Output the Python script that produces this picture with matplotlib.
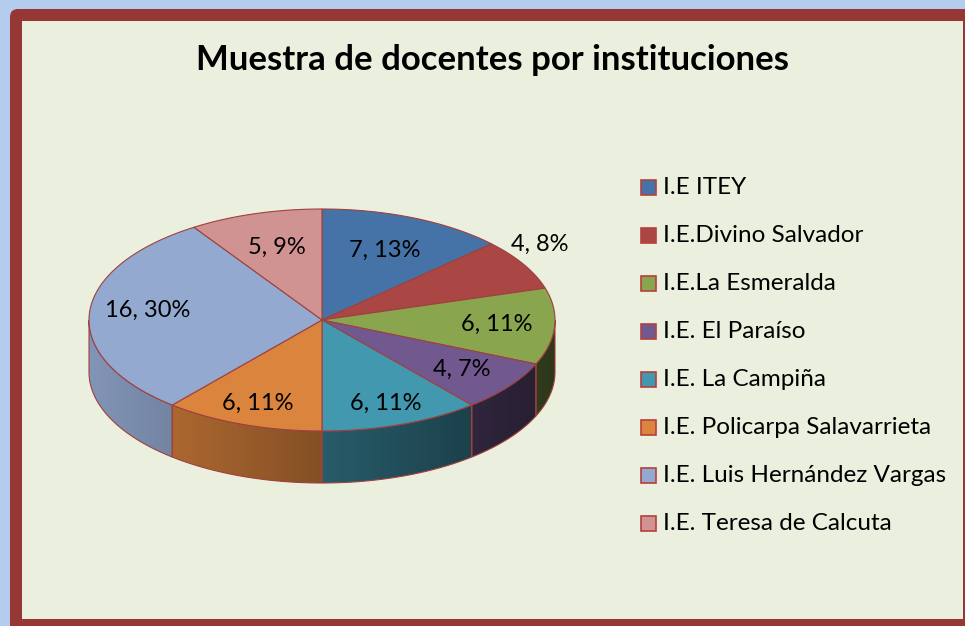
import numpy as np
import matplotlib
matplotlib.use("Agg")
import matplotlib.pyplot as plt
from matplotlib.patches import Polygon, Rectangle, FancyBboxPatch
from matplotlib.colors import to_rgb

plt.rcParams['font.family'] = ['Lato', 'DejaVu Sans']

# data
schools = ["I.E ITEY", "I.E.Divino Salvador", "I.E.La Esmeralda", "I.E. El Paraíso",
           "I.E. La Campiña", "I.E. Policarpa Salavarrieta", "I.E. Luis Hernández Vargas",
           "I.E. Teresa de Calcuta"]
teachers = [7, 4, 6, 4, 6, 6, 16, 5]
pct_labels = ["13%", "8%", "11%", "7%", "11%", "11%", "30%", "9%"]
colors = ["#4572a7", "#aa4643", "#89a54e", "#71588f", "#4198af", "#db843d", "#93a9cf", "#d19392"]
title = "Muestra de docentes por instituciones"

# geometry of the fake 3d pie (pixel coords)
cx, cy = 322, 320
rx, ry = 233, 111
depth = 52
label_r = [0.68, 1.08, 0.75, 0.75, 0.8, 0.8, 0.75, 0.68]
label_dy = [0, -16, 0, 0, 0, 0, -5, 0]

fig = plt.figure(figsize=(9.65, 6.26), dpi=100)
fig.patch.set_facecolor("#b4cdee")
ax = fig.add_axes([0, 0, 1, 1])
ax.set_xlim(0, 965)
ax.set_ylim(626, 0)
ax.axis("off")

# chart frame
ax.add_patch(FancyBboxPatch((10, 9), 980, 640, boxstyle="round,pad=0,rounding_size=8",
                            facecolor="#953735", edgecolor="none"))
ax.add_patch(Rectangle((22, 21), 941, 598, facecolor="#ebf0de", edgecolor="none"))


def pt(t, r=1.0, dy=0.0):
    t = np.radians(t)
    return cx + rx * r * np.sin(t), cy - ry * r * np.cos(t) + dy


def shade(x):
    return np.clip(0.88 - (x - 90) / 465 * 0.55, 0.3, 1)


angles = np.cumsum([0] + teachers) / sum(teachers) * 360
edge = "#a0403f"

# side walls (visible front half: 90..270 deg)
for i in range(len(teachers)):
    a0, a1 = max(angles[i], 90), min(angles[i + 1], 270)
    if a1 <= a0:
        continue
    ts = np.linspace(a0, a1, 60)
    xs, ys = pt(ts)
    verts = list(zip(xs, ys)) + list(zip(xs[::-1], ys[::-1] + depth))
    poly = Polygon(verts, closed=True, facecolor="none", edgecolor=edge, lw=0.8, zorder=3)
    ax.add_patch(poly)
    x0, x1 = min(xs), max(xs)
    gx = np.linspace(x0, x1, 200)
    base = np.array(to_rgb(colors[i]))
    grad = np.clip(shade(gx)[:, None] * base[None, :], 0, 1)[None, :, :]
    im = ax.imshow(grad, extent=(x0, x1, max(ys) + depth, min(ys)), aspect="auto", zorder=2,
                   interpolation="bilinear")
    im.set_clip_path(Polygon(verts, closed=True, transform=ax.transData))

# top face
for i in range(len(teachers)):
    ts = np.linspace(angles[i], angles[i + 1], 100)
    xs, ys = pt(ts)
    verts = [(cx, cy)] + list(zip(xs, ys))
    ax.add_patch(Polygon(verts, closed=True, facecolor=colors[i], edgecolor=edge, lw=0.8, zorder=4))

# data labels
for i, (v, p) in enumerate(zip(teachers, pct_labels)):
    mid = (angles[i] + angles[i + 1]) / 2
    lx, ly = pt(mid, label_r[i], label_dy[i])
    ax.text(lx, ly, f"{v}, {p}", ha="center", va="center", fontsize=17,
            color="black", zorder=5)

# title
ax.text(493, 60, title, ha="center", va="center", fontsize=25, fontweight="bold")

# legend
for i, name in enumerate(schools):
    y = 187 + i * 48.1
    ax.add_patch(Rectangle((641, y - 7.5), 15, 15, facecolor=colors[i], edgecolor="#b5403e", lw=1.2))
    ax.text(663, y, name, ha="left", va="center", fontsize=17.5)

fig.savefig("out.png", dpi=100, facecolor=fig.get_facecolor())
